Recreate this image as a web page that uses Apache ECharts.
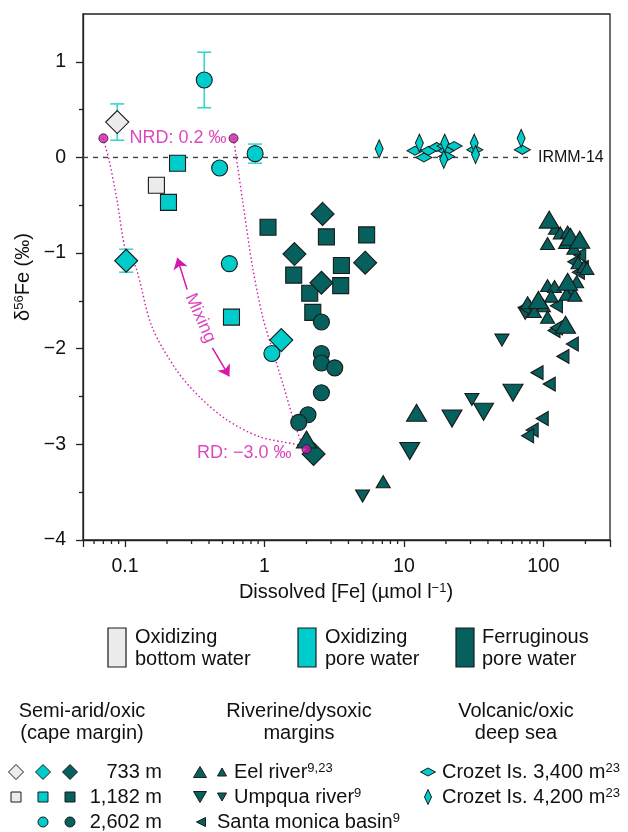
<!DOCTYPE html>
<html><head><meta charset="utf-8">
<script src="https://cdn.jsdelivr.net/npm/echarts@6/dist/echarts.min.js"></script>
<style>html,body{margin:0;padding:0;background:#fff}#c{width:628px;height:832px}</style>
</head><body><div id="c"></div>
<script>
// ---------------- data ----------------
const whiteDiamond733 = [[0.088, 0.37]];
const whiteSquare1182 = [[0.168, -0.29]];
const cyanDiamond733 = [[0.102, -1.08], [1.32, -1.91]];
const cyanSquare1182 = [[0.238, -0.06], [0.205, -0.47], [0.58, -1.67]];
const cyanCircle2602 = [[0.37, 0.81], [0.857, 0.04], [0.477, -0.11], [0.56, -1.11], [1.13, -2.05]];
const darkDiamond733 = [[2.61, -0.59], [1.64, -1.01], [5.27, -1.10], [2.56, -1.31], [2.25, -3.10]];
const darkSquare1182 = [[1.06, -0.73], [2.78, -0.83], [5.40, -0.81], [3.56, -1.13], [1.62, -1.23], [3.52, -1.34], [2.11, -1.42], [2.22, -1.62]];
const darkCircle2602 = [[2.56, -1.72], [2.56, -2.05], [2.56, -2.15], [3.19, -2.20], [2.56, -2.46], [2.05, -2.69], [1.76, -2.77]];
// [x, y, error]
const errorBars = [[0.088, 0.37, 0.19], [0.102, -1.08, 0.12], [0.37, 0.81, 0.29], [0.857, 0.04, 0.10]];
const eelBig = [[110, -0.65], [156, -0.83], [182, -0.86], [92, -1.49], [144, -1.75], [12.3, -2.67], [2.0, -2.95], [149, -1.30]];
const eelSmall = [[122, -0.74], [132, -0.79], [149, -0.78], [144, -0.89], [107, -0.90], [165, -0.95], [177, -1.10], [195, -1.14], [205, -1.16],
  [173, -1.30], [107, -1.34], [120, -1.35], [146, -1.43], [168, -1.44], [114, -1.45], [77, -1.52], [100, -1.55], [86, -1.61], [107, -1.67], [7.1, -3.39]];
const umpquaBig = [[11.0, -3.07], [22.1, -2.73], [37.2, -2.66], [60.5, -2.46]];
const umpquaSmall = [[5.05, -3.54], [30.7, -2.53], [50.4, -1.91], [74, -1.63]];
const santaMonica = [[182, -1.02], [165, -1.09], [190, -1.15], [178, -1.20], [149, -1.37], [73, -1.57], [124, -1.55], [119, -1.81], [124, -1.78],
  [161, -1.95], [138, -2.08], [90, -2.25], [110, -2.37], [98, -2.73], [83, -2.85], [77, -2.91]];
const crozet3400 = [[12.0, 0.07], [13.9, 0.0], [15.0, 0.07], [17.2, 0.11], [19.7, 0.12], [20.0, 0.07], [22.9, 0.12], [20.2, 0.01], [32.2, 0.08], [70.6, 0.08]];
const crozet4200 = [[6.64, 0.09], [12.9, 0.15], [19.3, -0.02], [19.6, 0.15], [31.9, 0.15], [32.6, 0.03], [69.2, 0.20]];
const nrdPoints = [[0.07, 0.2], [0.6, 0.2]];
const rdPoint = [[2.0, -3.05]];
const mixingCurveA = [[0.0695, 0.2], [0.0767, -0.02], [0.0875, -0.44], [0.1017, -0.99], [0.119, -1.14], [0.156, -1.77], [0.233, -2.22],
  [0.340, -2.50], [0.533, -2.74], [0.92, -2.92], [1.79, -3.01], [2.0, -3.05]];
const mixingCurveB = [[0.6, 0.2], [0.695, -0.44], [0.82, -1.14], [0.968, -1.66], [1.14, -2.01], [1.35, -2.36], [1.59, -2.71], [1.84, -2.98], [2.0, -3.05]];
const mixingArrows = [[[0.279, -1.38], [0.237, -1.05]], [[0.423, -1.99], [0.56, -2.29]]];
const mixingLabelAt = [[0.347, -1.68]];
const irmmLine = [[0.05, 0], [80, 0]];
const yTicks = [-4, -3, -2, -1, 0, 1];
const xMinorTicks = [];
[0.01, 0.1, 1, 10, 100].forEach(d => { for (let k = 2; k <= 9; k++) { const v = +(d * k).toPrecision(3); if (v > 0.05 && v < 300) xMinorTicks.push(v); } });

// ---------------- styles ----------------
const C_WHITE = '#ececec', C_CYAN = '#00cccc', C_DARK = '#06605e', C_MAG = '#d418ae', C_BAR = '#3ad3d3', C_EDGE = '#1a1a1a';
const FONT = "'Liberation Sans', Arial, Helvetica, sans-serif";

const chart = echarts.init(document.getElementById('c'), null, { renderer: 'canvas', width: 628, height: 832 });

function sc(name, data, symbol, size, color, extra) {
  return Object.assign({
    name, type: 'scatter', data, symbol, symbolSize: size,
    itemStyle: { color, borderColor: C_EDGE, borderWidth: 1.1, opacity: 1 }, z: 5
  }, extra || {});
}

const option = {
  animation: false,
  backgroundColor: '#fff',
  textStyle: { fontFamily: FONT },
  grid: { left: 83, right: 18, top: 14, bottom: 292, show: true, borderColor: '#222', borderWidth: 1.3, backgroundColor: 'transparent' },
  xAxis: {
    type: 'log', logBase: 10, min: 0.05, max: 300,
    axisLine: { onZero: false, lineStyle: { color: '#222', width: 1.3 } },
    axisTick: { length: 7, lineStyle: { color: '#222', width: 1.3 } },
    axisLabel: {
      fontSize: 19.5, color: '#111', margin: 17, fontFamily: FONT,
      formatter: v => { const l = Math.log10(v); return Math.abs(l - Math.round(l)) < 1e-6 ? String(+v.toPrecision(3)) : ''; }
    },
    splitLine: { show: false }
  },
  yAxis: {
    type: 'value', min: -4, max: 1.5, interval: 1,
    axisLine: { onZero: false, lineStyle: { color: '#222', width: 1.3 } },
    axisTick: { length: 7, customValues: yTicks, lineStyle: { color: '#222', width: 1.3 } },
    minorTick: { show: true, splitNumber: 2, length: 4, lineStyle: { color: '#222', width: 1.3 } },
    axisLabel: {
      fontSize: 19.5, color: '#111', margin: 17, fontFamily: FONT,
      formatter: v => (v > 1.01 ? '' : (v < 0 ? '\u2212' + Math.abs(v) : String(v)))
    },
    splitLine: { show: false }
  },
  series: [
    { type: 'line', data: mixingCurveA, smooth: 0.3, symbol: 'none', lineStyle: { color: C_MAG, width: 1.4, type: [1.5, 2.5] }, z: 2, silent: true },
    { type: 'line', data: mixingCurveB, smooth: 0.3, symbol: 'none', lineStyle: { color: C_MAG, width: 1.4, type: [1.5, 2.5] }, z: 2, silent: true },
    { type: 'line', data: irmmLine, symbol: 'none', lineStyle: { color: '#444', width: 1.4, type: [5, 5] }, z: 2,
      endLabel: { show: true, formatter: 'IRMM-14', fontSize: 16, color: '#111', distance: 8, fontFamily: FONT } },
    { type: 'custom', data: xMinorTicks.map(v => [v, -4]), clip: false, z: 3, silent: true,
      renderItem: (p, api) => { const pt = api.coord([api.value(0), -4]);
        return { type: 'line', shape: { x1: pt[0], y1: pt[1], x2: pt[0], y2: pt[1] + 4 }, style: { stroke: '#222', lineWidth: 1.3 } }; } },
    { type: 'custom', data: errorBars, z: 4, silent: true, encode: { x: 0, y: 1 },
      renderItem: (p, api) => {
        const x = api.value(0), y = api.value(1), e = api.value(2);
        const t = api.coord([x, y + e]), b = api.coord([x, y - e]), hw = 7;
        const st = { stroke: C_BAR, lineWidth: 1.6 };
        return { type: 'group', children: [
          { type: 'line', shape: { x1: t[0], y1: t[1], x2: b[0], y2: b[1] }, style: st },
          { type: 'line', shape: { x1: t[0] - hw, y1: t[1], x2: t[0] + hw, y2: t[1] }, style: st },
          { type: 'line', shape: { x1: b[0] - hw, y1: b[1], x2: b[0] + hw, y2: b[1] }, style: st }
        ] };
      } },
    sc('whiteDiamond', whiteDiamond733, 'diamond', 23, C_WHITE),
    sc('whiteSquare', whiteSquare1182, 'rect', 16, C_WHITE),
    sc('cyanDiamond', cyanDiamond733, 'diamond', 23, C_CYAN),
    sc('cyanSquare', cyanSquare1182, 'rect', 16, C_CYAN),
    sc('cyanCircle', cyanCircle2602, 'circle', 16, C_CYAN),
    sc('darkSquare', darkSquare1182, 'rect', 16, C_DARK),
    sc('darkDiamond', darkDiamond733, 'diamond', 23, C_DARK),
    sc('darkCircle', darkCircle2602, 'circle', 16, C_DARK),
    sc('crozet3400', crozet3400, 'diamond', [16, 9], C_CYAN),
    sc('crozet4200', crozet4200, 'diamond', [8, 18], C_CYAN),
    sc('umpquaBig', umpquaBig, 'triangle', [20, 17], C_DARK, { symbolRotate: 180 }),
    sc('umpquaSmall', umpquaSmall, 'triangle', [14, 12], C_DARK, { symbolRotate: 180 }),
    sc('santaMonica', santaMonica, 'triangle', [14, 12], C_DARK, { symbolRotate: 90 }),
    sc('eelSmall', eelSmall, 'triangle', [14, 12], C_DARK),
    sc('eelBig', eelBig, 'triangle', [20, 17], C_DARK),
    { type: 'scatter', data: nrdPoints, symbol: 'circle', symbolSize: 9, z: 6,
      itemStyle: { color: C_MAG, borderColor: C_EDGE, borderWidth: 1 },
      label: { show: true, position: 'right', distance: 21, color: C_MAG, fontSize: 18, fontFamily: FONT,
        formatter: p => (p.dataIndex === 0 ? 'NRD: 0.2 \u2030' : '') } },
    { type: 'scatter', data: rdPoint, symbol: 'circle', symbolSize: 9, z: 6,
      itemStyle: { color: C_MAG, borderColor: C_EDGE, borderWidth: 1 },
      label: { show: true, position: 'left', distance: 10, color: C_MAG, fontSize: 18, fontFamily: FONT, formatter: 'RD: \u22123.0 \u2030', offset: [0, 4] } },
    { type: 'lines', coordinateSystem: 'cartesian2d', z: 6, silent: true,
      data: mixingArrows.map(c => ({ coords: c })), symbol: ['none', 'arrow'], symbolSize: 11,
      lineStyle: { color: C_MAG, width: 1.5, curveness: 0, opacity: 1 } },
    { type: 'scatter', data: mixingLabelAt, symbolSize: 0, z: 6, silent: true,
      label: { show: true, position: 'inside', rotate: -66, formatter: 'Mixing', color: C_MAG, fontSize: 18, fontFamily: FONT } }
  ]
};

// ---------------- legend & titles (graphic) ----------------
const G = [];
const TF = '20px ' + FONT;
const txt = (x, y, text, opt) => G.push(Object.assign({ type: 'text', x, y, style: Object.assign({ text, font: TF, fill: '#111', align: 'left', verticalAlign: 'middle' }, opt || {}) }));
const poly = (pts, fill) => G.push({ type: 'polygon', shape: { points: pts }, style: { fill, stroke: C_EDGE, lineWidth: 1 } });
const diamond = (cx, cy, w, h, f) => poly([[cx, cy - h / 2], [cx + w / 2, cy], [cx, cy + h / 2], [cx - w / 2, cy]], f);
const triUp = (cx, cy, w, h, f) => poly([[cx, cy - h / 2], [cx + w / 2, cy + h / 2], [cx - w / 2, cy + h / 2]], f);
const triDown = (cx, cy, w, h, f) => poly([[cx, cy + h / 2], [cx + w / 2, cy - h / 2], [cx - w / 2, cy - h / 2]], f);
const triLeft = (cx, cy, w, h, f) => poly([[cx - w / 2, cy], [cx + w / 2, cy - h / 2], [cx + w / 2, cy + h / 2]], f);
const square = (cx, cy, s, f) => G.push({ type: 'rect', shape: { x: cx - s / 2, y: cy - s / 2, width: s, height: s }, style: { fill: f, stroke: C_EDGE, lineWidth: 1 } });
const circ = (cx, cy, r, f) => G.push({ type: 'circle', shape: { cx, cy, r }, style: { fill: f, stroke: C_EDGE, lineWidth: 1 } });
const bar = (x, f) => G.push({ type: 'rect', shape: { x, y: 628, width: 18, height: 39 }, style: { fill: f, stroke: C_EDGE, lineWidth: 1.2 } });
const RICH = { a: { font: TF, fill: '#111' }, s: { font: '13px ' + FONT, fill: '#111', verticalAlign: 'top' } };

// axis titles
G.push({ type: 'text', x: 23, y: 277, rotation: Math.PI / 2,
  style: { text: '{a|\u03b4}{s|56}{a|Fe (\u2030)}', rich: RICH, align: 'center', verticalAlign: 'middle' } });
G.push({ type: 'text', x: 346, y: 592,
  style: { text: '{a|Dissolved [Fe] (\u00b5mol l}{s|\u22121}{a|)}', rich: RICH, align: 'center', verticalAlign: 'middle' } });

// colour key
bar(108, C_WHITE); txt(135, 637, 'Oxidizing'); txt(135, 659, 'bottom water');
bar(298, C_CYAN); txt(325, 637, 'Oxidizing'); txt(325, 659, 'pore water');
bar(456, C_DARK); txt(482, 637, 'Ferruginous'); txt(482, 659, 'pore water');

// group headers
[[82, 'Semi-arid/oxic', '(cape margin)'], [299, 'Riverine/dysoxic', 'margins'], [516, 'Volcanic/oxic', 'deep sea']].forEach(h => {
  txt(h[0], 711, h[1], { align: 'center' }); txt(h[0], 733, h[2], { align: 'center' });
});

// symbol key rows
const R1 = 772, R2 = 797, R3 = 822;
diamond(16, R1, 15, 15, C_WHITE); diamond(43, R1, 15, 15, C_CYAN); diamond(70, R1, 15, 15, C_DARK);
square(16, R2, 10, C_WHITE); square(43, R2, 10, C_CYAN); square(70, R2, 10, C_DARK);
circ(43, R3, 5, C_CYAN); circ(70, R3, 5, C_DARK);
txt(162, R1, '733 m', { align: 'right' }); txt(162, R2, '1,182 m', { align: 'right' }); txt(162, R3, '2,602 m', { align: 'right' });

triUp(200, R1, 13, 11, C_DARK); triUp(222, R1, 9, 8, C_DARK);
triDown(200, R2, 13, 11, C_DARK); triDown(222, R2, 9, 8, C_DARK);
triLeft(201, R3, 9, 9, C_DARK);
G.push({ type: 'text', x: 234, y: R1, style: { text: '{a|Eel river}{s|9,23}', rich: RICH, verticalAlign: 'middle' } });
G.push({ type: 'text', x: 234, y: R2, style: { text: '{a|Umpqua river}{s|9}', rich: RICH, verticalAlign: 'middle' } });
G.push({ type: 'text', x: 217, y: R3, style: { text: '{a|Santa monica basin}{s|9}', rich: RICH, verticalAlign: 'middle' } });

diamond(428, R1, 15, 8, C_CYAN); diamond(428, R2, 7, 15, C_CYAN);
G.push({ type: 'text', x: 442, y: R1, style: { text: '{a|Crozet Is. 3,400 m}{s|23}', rich: RICH, verticalAlign: 'middle' } });
G.push({ type: 'text', x: 442, y: R2, style: { text: '{a|Crozet Is. 4,200 m}{s|23}', rich: RICH, verticalAlign: 'middle' } });

option.graphic = { elements: G };
chart.setOption(option);
</script>
</body></html>
